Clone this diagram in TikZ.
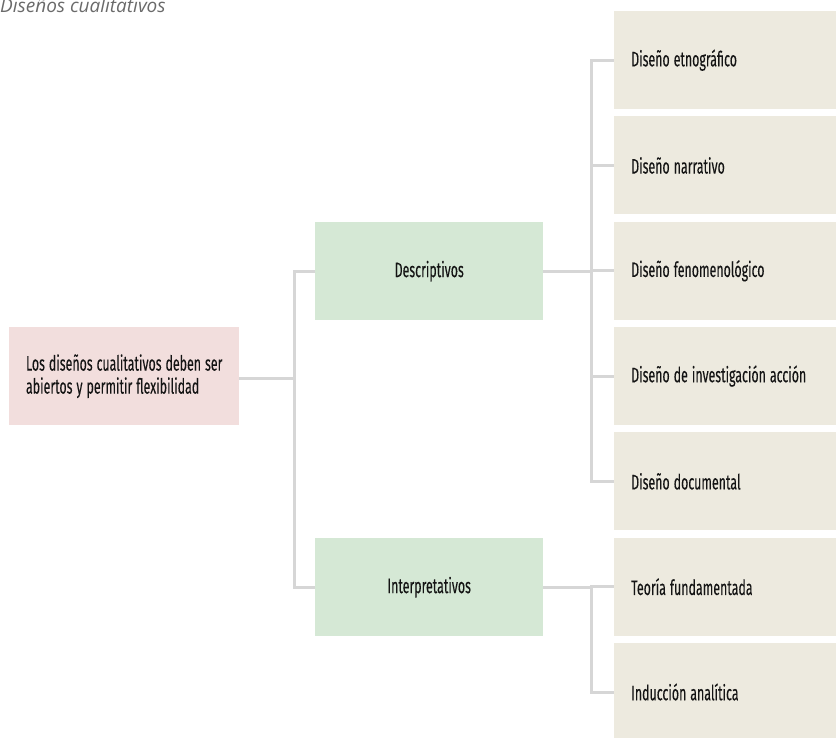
\documentclass[tikz,border=0pt]{standalone}
\usepackage{fontspec}
\setmainfont{Fira Sans}[FakeStretch=0.59, FakeBold=0.15]
\newfontfamily\titlefont{Open Sans}
\newcommand\boxfont{\fontsize{21}{23}\selectfont}
\definecolor{rootfill}{HTML}{F2DEDD}
\definecolor{typefill}{HTML}{D5E8D5}
\definecolor{leaffill}{HTML}{EDEADF}
\definecolor{linkgray}{HTML}{D6D6D6}
\definecolor{titlegray}{HTML}{6A6A6A}
\tikzset{
  box/.style={anchor=north west, inner sep=0pt, minimum height=98pt,
    font=\boxfont, text=black!92,
    execute at begin node={\spaceskip=0.19em plus 0.05em\relax}},
  rootbox/.style={box, fill=rootfill, minimum width=230pt, align=left},
  typebox/.style={box, fill=typefill, minimum width=228pt, align=center},
  leafbox/.style={box, fill=leaffill, minimum width=222pt, text width=188pt,
    inner xsep=17pt, align=left},
  link/.style={draw=linkgray, line width=3pt}
}
\begin{document}
\begin{tikzpicture}[x=1pt,y=-1pt]
\useasboundingbox (0,0) rectangle (836,738);

% caption
\node[anchor=base west, inner sep=0pt, text=titlegray,
  font=\titlefont\itshape\fontsize{19}{22}\selectfont] (title) at (0,13) {Diseños cualitativos};

% root and the two families of designs
\node[rootbox] (root) at (9,327) {Los diseños cualitativos deben ser\\abiertos y permitir flexibilidad};
\node[typebox] (desc) at (315,222) {Descriptivos};
\node[typebox] (interp) at (315,538) {Interpretativos};

% individual designs
\node[leafbox] (d1) at (614,11) {Diseño etnográfico};
\node[leafbox] (d2) at (614,116.3) {Diseño narrativo};
\node[leafbox] (d3) at (614,221.6) {Diseño fenomenológico};
\node[leafbox] (d4) at (614,326.9) {Diseño de investigación acción};
\node[leafbox] (d5) at (614,432.2) {Diseño documental};
\node[leafbox] (i1) at (614,537.5) {Teoría fundamentada};
\node[leafbox] (i2) at (614,642.8) {Inducción analítica};

% junction points of the tree
\coordinate (jx) at (591,0);
\coordinate (j1) at (294,378);
\coordinate (j2) at (desc.east -| jx);
\coordinate (j3) at (interp.east -| jx);

% connectors
\draw[link] (root.east |- j1) -- (j1);
\draw[link] (desc.west) -| (j1) |- (interp.west);
\draw[link] (desc.east) -- (j2);
\foreach \n in {d1,d2,d3,d4,d5} \draw[link] (j2) |- (\n.west);
\draw[link] (interp.east) -- (j3);
\foreach \n in {i1,i2} \draw[link] (j3) |- (\n.west);
\end{tikzpicture}
\end{document}
